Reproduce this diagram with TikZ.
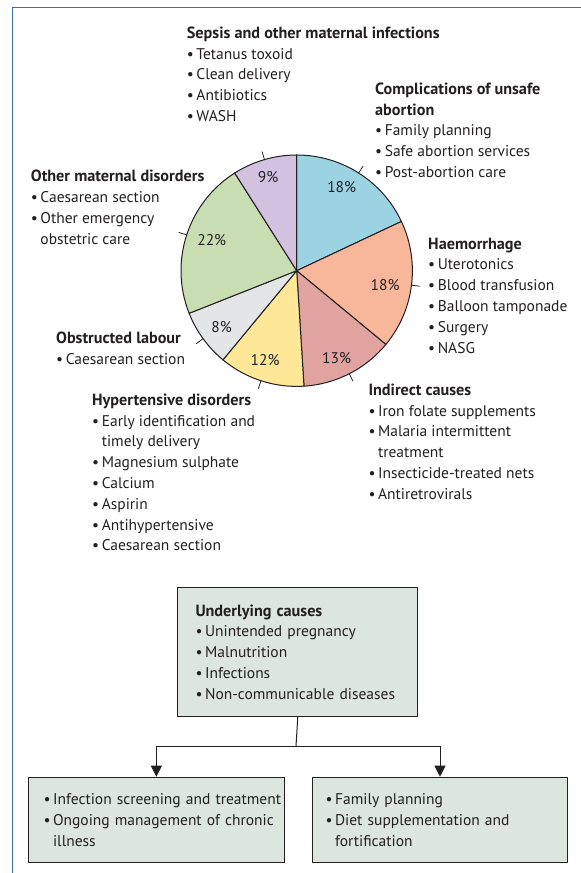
\documentclass[tikz,border=0pt]{standalone}
\usepackage{fontspec}
\setmainfont{PT Sans}
\usetikzlibrary{arrows.meta}

\definecolor{abortfill}{HTML}{9BD3E3}
\definecolor{haemfill}{HTML}{F8B69A}
\definecolor{indirfill}{HTML}{E0A3A0}
\definecolor{hyperfill}{HTML}{FEE796}
\definecolor{obstrfill}{HTML}{E4E5E7}
\definecolor{otherfill}{HTML}{C8DEB2}
\definecolor{sepsisfill}{HTML}{D2C1DF}
\definecolor{boxfill}{HTML}{DCE6DE}
\definecolor{framecol}{HTML}{3A6EA5}
\definecolor{ink}{HTML}{231F20}

\newcommand{\bitem}[1]{\mbox{\textbullet\,#1}}
\newcommand{\bcont}[1]{\mbox{\hphantom{\textbullet\,}#1}}
\newcommand{\btitle}[1]{\mbox{\fontsize{16.2}{20.8}\selectfont\textbf{#1}}}

\begin{document}
\begin{tikzpicture}[
    x=1pt, y=-1pt,
    every node/.style={text=ink, font=\fontsize{15.5}{20.8}\selectfont},
    cause/.style={anchor=north west, align=left, inner sep=0pt},
    slice/.style={draw=ink, line width=1pt},
    tick/.style={draw=ink, line width=0.8pt},
    pct/.style={inner sep=0pt},
    box/.style={draw=ink, line width=1pt, fill=boxfill, anchor=north west, align=left, inner ysep=0pt},
    link/.style={draw=ink, line width=1pt},
    frame/.style={draw=framecol, line width=1.3pt}
]
\useasboundingbox (0,0) rectangle (581,873);
\draw[frame] (12.7,873) -- (12.7,7.3) -- (581,7.3);

% Torta delle cause
\begin{scope}[shift={(296.7,270.7)}, yscale=-1]
\filldraw[slice, fill=abortfill] (0,0) -- (90:115.7) arc[start angle=90, end angle=25.2, radius=115.7] -- cycle;
\filldraw[slice, fill=haemfill] (0,0) -- (25.2:115.7) arc[start angle=25.2, end angle=-39.6, radius=115.7] -- cycle;
\filldraw[slice, fill=indirfill] (0,0) -- (-39.6:115.7) arc[start angle=-39.6, end angle=-86.4, radius=115.7] -- cycle;
\filldraw[slice, fill=hyperfill] (0,0) -- (-86.4:115.7) arc[start angle=-86.4, end angle=-129.6, radius=115.7] -- cycle;
\filldraw[slice, fill=obstrfill] (0,0) -- (-129.6:115.7) arc[start angle=-129.6, end angle=-158.4, radius=115.7] -- cycle;
\filldraw[slice, fill=otherfill] (0,0) -- (-158.4:115.7) arc[start angle=-158.4, end angle=-237.6, radius=115.7] -- cycle;
\filldraw[slice, fill=sepsisfill] (0,0) -- (-237.6:115.7) arc[start angle=-237.6, end angle=-270, radius=115.7] -- cycle;

\draw[tick] (57.6:115.7) -- (57.6:124);
\draw[tick] (-7.2:115.7) -- (-7.2:124);
\draw[tick] (-63:115.7) -- (-63:124);
\draw[tick] (-108:115.7) -- (-108:124);
\draw[tick] (-144:115.7) -- (-144:124);
\draw[tick] (162:115.7) -- (162:124);
\draw[tick] (106.2:115.7) -- (106.2:124);

\node[pct] (pabort) at (61.8:95.3) {18\%};
\node[pct] (phaem) at (-9.2:89.5) {18\%};
\node[pct] (pindir) at (-65.5:96.3) {13\%};
\node[pct] (phyper) at (-109.5:94.8) {12\%};
\node[pct] (pobstr) at (-143.3:93.6) {8\%};
\node[pct] (pother) at (160:90.4) {22\%};
\node[pct] (psepsis) at (107:98) {9\%};
\end{scope}

% Interventi per causa
\node[cause] (sepsis) at (186.7,26.5) {\btitle{Sepsis and other maternal infections}\\
    \bitem{Tetanus toxoid}\\ \bitem{Clean delivery}\\ \bitem{Antibiotics}\\ \bitem{WASH}};
\node[cause] (abort) at (375,82.5) {\btitle{Complications of unsafe}\\ \btitle{abortion}\\
    \bitem{Family planning}\\ \bitem{Safe abortion services}\\ \bitem{Post-abortion care}};
\node[cause] (haem) at (428,237.5) {\btitle{Haemorrhage}\\
    \bitem{Uterotonics}\\ \bitem{Blood transfusion}\\ \bitem{Balloon tamponade}\\ \bitem{Surgery}\\ \bitem{NASG}};
\node[cause] (indirect) at (368.3,383.5) {\btitle{Indirect causes}\\
    \bitem{Iron folate supplements}\\ \bitem{Malaria intermittent}\\ \bcont{treatment}\\
    \bitem{Insecticide-treated nets}\\ \bitem{Antiretrovirals}};
\node[cause] (hyper) at (92,393.5) {\btitle{Hypertensive disorders}\\
    \bitem{Early identification and}\\ \bcont{timely delivery}\\ \bitem{Magnesium sulphate}\\
    \bitem{Calcium}\\ \bitem{Aspirin}\\ \bitem{Antihypertensive}\\ \bitem{Caesarean section}};
\node[cause] (obstr) at (56,331.5) {\btitle{Obstructed labour}\\ \bitem{Caesarean section}};
\node[cause] (othermat) at (30.7,170.2) {\btitle{Other maternal disorders}\\
    \bitem{Caesarean section}\\ \bitem{Other emergency}\\ \bcont{obstetric care}};

% Cause sottostanti
\node[box, inner xsep=17.7pt, text width=204.6pt, minimum height=128.4pt] (under) at (177.3,587.3)
    {\btitle{Underlying causes}\\ \bitem{Unintended pregnancy}\\ \bitem{Malnutrition}\\
     \bitem{Infections}\\ \bitem{Non-communicable diseases}};
\node[box, inner xsep=15.3pt, text width=225.7pt, minimum height=85.6pt] (screen) at (27.7,776.7)
    {\bitem{Infection screening and treatment}\\ \bitem{Ongoing management of chronic}\\ \bcont{illness}};
\node[box, inner xsep=13.3pt, text width=229pt, minimum height=85.6pt] (famplan) at (311.7,776.7)
    {\bitem{Family planning}\\ \bitem{Diet supplementation and}\\ \bcont{fortification}};

\coordinate (split) at (296,746);
\draw[link] (under.south) -- (split);
\draw[link, -{Triangle[width=11pt,length=11pt]}] (split) -| (screen.north);
\draw[link, -{Triangle[width=11pt,length=11pt]}] (split) -| (famplan.north);
\end{tikzpicture}
\end{document}
